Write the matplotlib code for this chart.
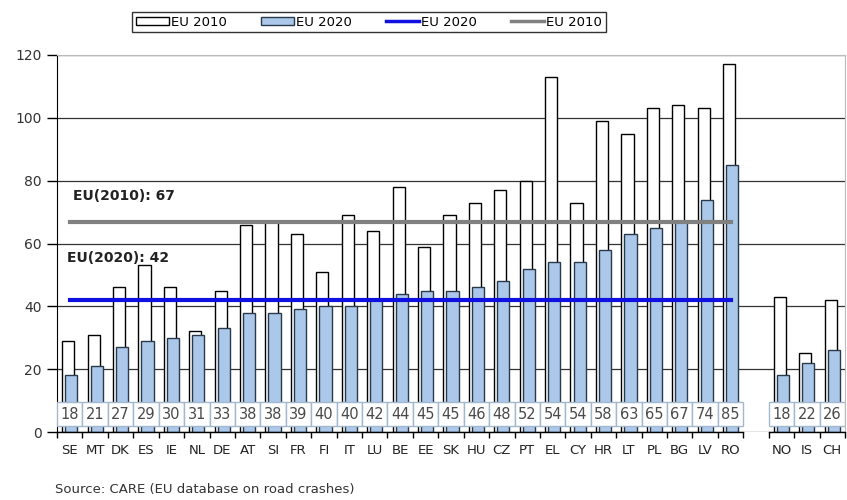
import matplotlib
matplotlib.use("Agg")
import matplotlib.pyplot as plt
from matplotlib.lines import Line2D
import numpy as np

# Road deaths per million inhabitants
countries = ["SE", "MT", "DK", "ES", "IE", "NL", "DE", "AT", "SI", "FR", "FI", "IT",
             "LU", "BE", "EE", "SK", "HU", "CZ", "PT", "EL", "CY", "HR", "LT", "PL",
             "BG", "LV", "RO"]
others = ["NO", "IS", "CH"]

eu2010 = [29, 31, 46, 53, 46, 32, 45, 66, 67, 63, 51, 69, 64, 78, 59, 69, 73, 77,
          80, 113, 73, 99, 95, 103, 104, 103, 117]
eu2020 = [18, 21, 27, 29, 30, 31, 33, 38, 38, 39, 40, 40, 42, 44, 45, 45, 46, 48,
          52, 54, 54, 58, 63, 65, 67, 74, 85]
oth2010 = [43, 25, 42]
oth2020 = [18, 22, 26]

avg2010 = 67
avg2020 = 42

plt.rcParams['font.family'] = ['DejaVu Sans']

labels = countries + others
v2010 = eu2010 + oth2010
v2020 = eu2020 + oth2020
n_eu = len(countries)
x = np.concatenate([np.arange(n_eu), np.arange(len(others)) + n_eu + 1])

fig = plt.figure(figsize=(8.47, 5.0), dpi=100)
ax = fig.add_axes([57 / 847, 68 / 500, 788 / 847, 377 / 500])

ax.set_axisbelow(True)
ax.yaxis.grid(True, color="#333333", lw=0.9)

w = 0.48
b1 = ax.bar(x - 0.06, v2010, width=w, color="white", edgecolor="black", lw=1.0,
            label="EU 2010", zorder=2)
b2 = ax.bar(x + 0.06, v2020, width=w, color="#abc8ea", edgecolor="#2b3a4a", lw=1.0,
            label="EU 2020", zorder=3)

# average lines
l1, = ax.plot([0, n_eu - 1], [avg2020, avg2020], color="#1010e0", lw=3, zorder=4)
l2, = ax.plot([0, n_eu - 1], [avg2010, avg2010], color="#808080", lw=3, zorder=4)
ax.text(0.13, 75, f"EU(2010): {avg2010}", fontsize=10, fontweight="bold",
        color="#222222", va="center", zorder=5)
ax.text(-0.1, 55.4, f"EU(2020): {avg2020}", fontsize=10, fontweight="bold",
        color="#222222", va="center", zorder=5)

# value boxes
ax.bar(x, 7.4, bottom=2.0, width=1.0, color="white", edgecolor="#a3b8cc", lw=1.0,
       zorder=6)
for xi, v in zip(x, v2020):
    ax.text(xi, 5.5, str(v), ha="center", va="center", fontsize=10.5,
            color="#4a4a4a", zorder=7)

# bottom axis line in two segments
ax.plot([-0.5, n_eu - 0.5], [0, 0], color="black", lw=1.0, clip_on=False, zorder=8)
ax.plot([n_eu + 0.5, x[-1] + 0.5], [0, 0], color="black", lw=1.0, clip_on=False,
        zorder=8)

ax.set_xlim(-0.5, x[-1] + 0.5)
ax.set_ylim(0, 120)
ax.set_yticks(np.arange(0, 121, 20))
ax.tick_params(axis="y", direction="out", length=7, width=1, labelsize=10,
               labelcolor="#333333", pad=4)
ax.set_xticks(x)
ax.set_xticklabels(labels, fontsize=9.5, color="#222222")
ax.set_xticks(np.arange(-0.5, x[-1] + 1, 1.0), minor=True)
ax.tick_params(axis="x", which="major", length=0, pad=9)
ax.tick_params(axis="x", which="minor", length=4, width=1, direction="out")

ax.spines["bottom"].set_visible(False)
ax.spines["left"].set_color("black")
ax.spines["top"].set_color("#bbbbbb")
ax.spines["right"].set_color("#bbbbbb")

h1 = Line2D([], [], color="#1010e0", lw=2.5)
h2 = Line2D([], [], color="#808080", lw=2.5)
leg = fig.legend(handles=[b1, b2, h1, h2], labels=["EU 2010", "EU 2020", "EU 2020", "EU 2010"],
                 ncol=4, loc="center", bbox_to_anchor=(369 / 847, 1 - 22 / 500),
                 fontsize=9.5, frameon=True, fancybox=False, edgecolor="black",
                 handlelength=2.5, handleheight=0.5, handletextpad=0.15,
                 columnspacing=2.6, borderpad=0.3)
leg.get_frame().set_linewidth(1.0)

fig.text(55 / 847, 1 - 490 / 500, "Source: CARE (EU database on road crashes)",
         fontsize=9.5, color="#333333", va="center")

fig.savefig("out.png", dpi=100)
